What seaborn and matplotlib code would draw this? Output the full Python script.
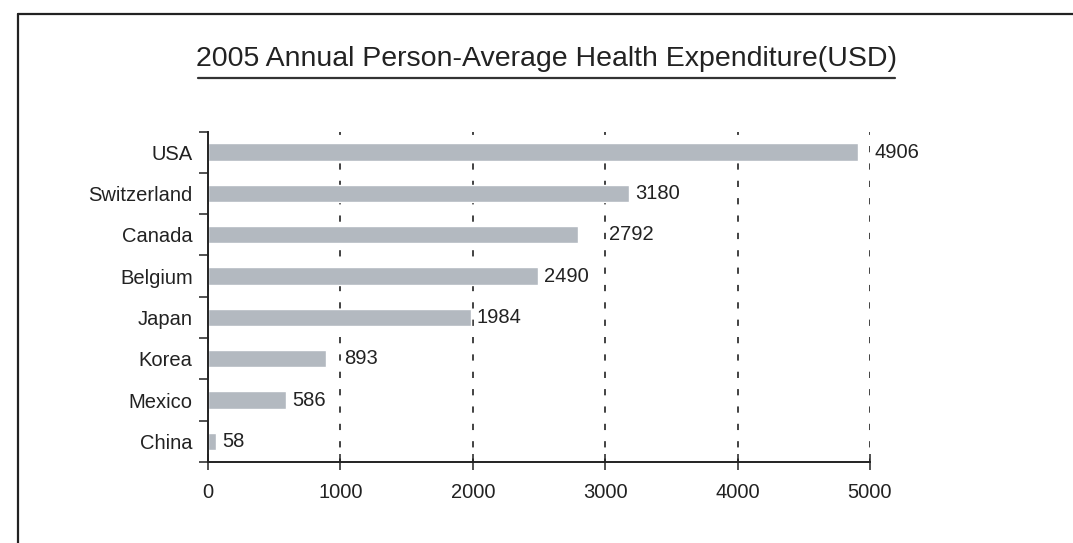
import matplotlib
matplotlib.use("Agg")
import matplotlib.pyplot as plt
from matplotlib.lines import Line2D
from matplotlib.ticker import FixedLocator
import seaborn as sns
import pandas as pd

countries = ["USA", "Switzerland", "Canada", "Belgium", "Japan", "Korea", "Mexico", "China"]
values = [4906, 3180, 2792, 2490, 1984, 893, 586, 58]
xticks = [0, 1000, 2000, 3000, 4000, 5000]
title = "2005 Annual Person-Average Health Expenditure(USD)"

sns.set_style("white")
plt.rcParams["font.family"] = ["Liberation Sans", "DejaVu Sans"]
plt.rcParams["lines.scale_dashes"] = False

TXT = "#222222"
BAR = "#b3b9c0"
FS = 14.5

fig = plt.figure(figsize=(10.73, 5.43), dpi=100)
ax = fig.add_axes([208 / 1073, 1 - 462 / 543, (870 - 208) / 1073, (462 - 131.5) / 543])

df = pd.DataFrame({"country": countries, "value": values})
sns.barplot(data=df, x="value", y="country", orient="h", color=BAR,
            width=0.42, saturation=1, ax=ax, zorder=2)

ax.set_xlim(xticks[0], xticks[-1])
ax.set_ylim(len(countries) - 0.5, -0.5)
ax.set_xlabel("")
ax.set_ylabel("")

# spines
for s in ["top", "right"]:
    ax.spines[s].set_visible(False)
for s in ["left", "bottom"]:
    ax.spines[s].set_linewidth(1.4)
    ax.spines[s].set_color(TXT)
    ax.spines[s].set_zorder(3)

# x ticks
ax.set_xticks(xticks)
ax.set_xticklabels([str(t) for t in xticks])
ax.tick_params(axis="x", direction="inout", length=12, width=1.1, color=TXT,
               pad=9, labelsize=FS, labelcolor=TXT, bottom=True)

# y ticks: labels at categories, ticks at boundaries
ax.tick_params(axis="y", which="major", length=0, pad=11, labelsize=FS, labelcolor=TXT, left=True)
ax.yaxis.set_minor_locator(FixedLocator([i - 0.5 for i in range(len(countries) + 1)]))
ax.tick_params(axis="y", which="minor", direction="out", length=6.5, width=1.1, color=TXT, left=True)

# dashed grid
ax.set_axisbelow(True)
ax.grid(False)
ax.xaxis.grid(True, color=TXT, linewidth=1.2, linestyle=(2, (4.5, 8.0)))

# value labels
for i, v in enumerate(values):
    nxt = ((v // 1000) + 1) * 1000
    if nxt - v < 250:
        anchor, off = nxt, 3
    else:
        anchor, off = v, 4.5
    ax.annotate(str(v), xy=(anchor, i), xytext=(off, 0), textcoords="offset points",
                va="center", ha="left", fontsize=FS, color=TXT)

# title with underline
fig.text(547 / 1073, 1 - 59 / 543, title, ha="center", va="center", fontsize=20.5, color=TXT)
fig.add_artist(Line2D([198 / 1073, 895 / 1073], [1 - 78 / 543] * 2, transform=fig.transFigure,
                      color="#333333", linewidth=1.6))

# outer frame (top and left)
fig.add_artist(Line2D([18 / 1073, 1.0], [1 - 14 / 543] * 2, transform=fig.transFigure,
                      color="#222222", linewidth=1.6))
fig.add_artist(Line2D([18 / 1073] * 2, [0.0, 1 - 14 / 543], transform=fig.transFigure,
                      color="#222222", linewidth=1.6))

fig.savefig("out.png", dpi=100)
